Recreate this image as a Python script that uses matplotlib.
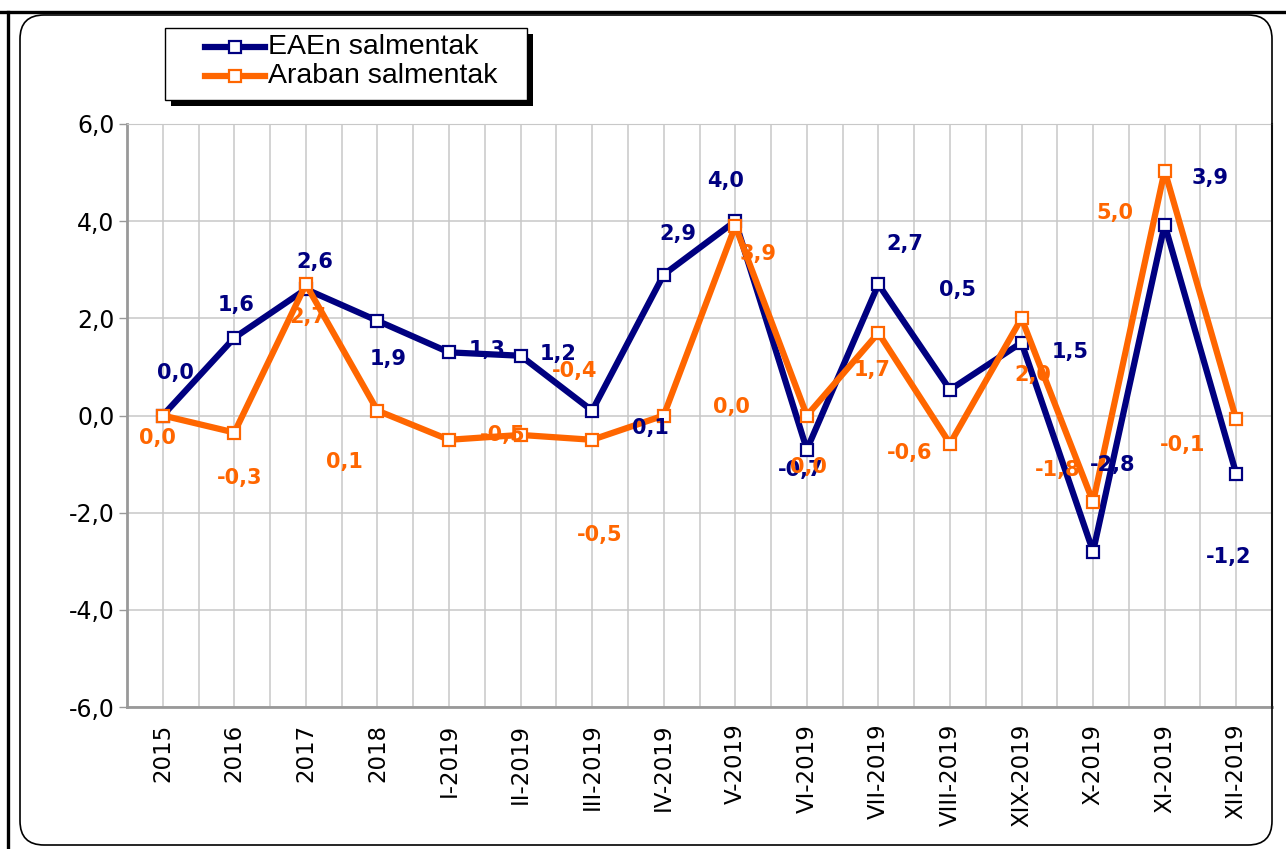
import numpy as np
import matplotlib
matplotlib.use('Agg')
import matplotlib.pyplot as plt
from matplotlib.patches import FancyBboxPatch, Rectangle
from matplotlib.lines import Line2D
from matplotlib.transforms import IdentityTransform

# data
categories = ['2015', '2016', '2017', '2018', 'I-2019', 'II-2019', 'III-2019', 'IV-2019',
              'V-2019', 'VI-2019', 'VII-2019', 'VIII-2019', 'XIX-2019', 'X-2019', 'XI-2019', 'XII-2019']
eae = [0.0, 1.6, 2.6, 1.95, 1.3, 1.23, 0.1, 2.9, 4.0, -0.7, 2.7, 0.53, 1.5, -2.8, 3.93, -1.2]
araba = [0.0, -0.35, 2.7, 0.1, -0.5, -0.4, -0.5, 0.0, 3.9, 0.0, 1.7, -0.58, 2.0, -1.78, 5.04, -0.08]
series_names = ['EAEn salmentak', 'Araban salmentak']

# data labels as they sit in the original chart (text, x in category units, y in data units)
eae_lbl = ['0,0', '1,6', '2,6', '1,9', '1,3', '1,2', '0,1', '2,9', '4,0', '-0,7', '2,7', '0,5', '1,5', '-2,8', '3,9', '-1,2']
eae_lbl_x = [0.18, 1.03, 2.12, 3.15, 4.53, 5.52, 6.81, 7.20, 7.87, 8.91, 10.37, 11.11, 12.68, 13.27, 14.64, 14.89]
eae_lbl_y = [0.87, 2.27, 3.16, 1.16, 1.35, 1.27, -0.26, 3.74, 4.83, -1.12, 3.53, 2.58, 1.31, -1.02, 4.89, -2.91]
ara_lbl = ['0,0', '-0,3', '2,7', '0,1', '-0,5', '-0,4', '-0,5', '0,0', '3,9', '0,0', '1,7', '-0,6', '2,0', '-1,8', '5,0', '-0,1']
ara_lbl_x = [-0.08, 1.08, 2.03, 2.54, 4.75, 5.75, 6.11, 7.95, 8.32, 9.02, 9.91, 10.43, 12.16, 12.50, 13.31, 14.25]
ara_lbl_y = [-0.46, -1.29, 2.03, -0.96, -0.40, 0.92, -2.46, 0.17, 3.32, -1.06, 0.94, -0.77, 0.83, -1.12, 4.17, -0.61]

blue = '#000080'
orange = '#FF6600'
W, H = 1286, 849

fig = plt.figure(figsize=(W/100, H/100), dpi=100)
px = IdentityTransform()

# outer black lines and rounded frame
fig.add_artist(Line2D([0, W], [H-12, H-12], transform=px, color='black', lw=2.4))
fig.add_artist(Line2D([8, 8], [0, H-12], transform=px, color='black', lw=2.4))
fig.add_artist(FancyBboxPatch((20, 4), 1252, 830, boxstyle='round,pad=0,rounding_size=24',
                              transform=px, facecolor='none', edgecolor='black', lw=1.2, zorder=3))

ax = fig.add_axes([127/W, 1-707/H, (1272-127)/W, (707-124)/H])
x = np.arange(len(categories))
ax.plot(x, eae, color=blue, lw=4.5, marker='s', ms=9, mfc='white', mec=blue, mew=1.6, zorder=3)
ax.plot(x, araba, color=orange, lw=4.5, marker='s', ms=9, mfc='white', mec=orange, mew=1.6, zorder=4)

for t, lx, ly in zip(eae_lbl, eae_lbl_x, eae_lbl_y):
    ax.text(lx, ly, t, color=blue, fontsize=15, fontweight='bold', family='DejaVu Sans',
            ha='center', va='center', zorder=5)
for t, lx, ly in zip(ara_lbl, ara_lbl_x, ara_lbl_y):
    ax.text(lx, ly, t, color=orange, fontsize=15, fontweight='bold', family='DejaVu Sans',
            ha='center', va='center', zorder=5)

ax.set_xlim(-0.5, len(categories)-0.5)
ax.set_ylim(-6, 6)
ax.set_xticks(x)
ax.set_xticks(np.arange(-0.5, len(categories), 1), minor=True)
ax.set_xticklabels(categories, rotation=90, fontsize=16.5, family='DejaVu Sans')
yt = np.arange(-6, 7, 2)
ax.set_yticks(yt)
ax.set_yticklabels([f'{v:.1f}'.replace('.', ',') for v in yt], fontsize=17, family='DejaVu Sans')
ax.tick_params(axis='x', which='both', length=0, pad=12)
ax.tick_params(axis='y', length=6, color='#999999', width=1, pad=3)
ax.grid(True, axis='x', which='both', color='#c8c8c8', lw=1.1)
ax.grid(True, axis='y', which='major', color='#c8c8c8', lw=1.1)
ax.set_axisbelow(True)
for s in ['left', 'bottom']:
    ax.spines[s].set_color('#999999')
    ax.spines[s].set_linewidth(2)
ax.spines['top'].set_color('#c8c8c8')
ax.spines['right'].set_color('#666666')
ax.spines['right'].set_linewidth(1.5)

# legend box with black shadow
fig.add_artist(Rectangle((171, H-106), 362, 72, transform=px, facecolor='black', edgecolor='none', zorder=4))
fig.add_artist(Rectangle((165, H-100), 362, 72, transform=px, facecolor='white', edgecolor='black', lw=1, zorder=5))
for name, col, yy in zip(series_names, [blue, orange], [H-47, H-76]):
    fig.add_artist(Line2D([205, 235, 265], [yy, yy, yy], transform=px, color=col, lw=4.5,
                          marker='s', ms=9, mfc='white', mec=col, mew=1.6, markevery=[1], zorder=6))
    fig.text(268/W, yy/H, name, fontsize=20.5, family='Liberation Sans', va='center', ha='left', zorder=6)

fig.savefig('out.png', dpi=100)
